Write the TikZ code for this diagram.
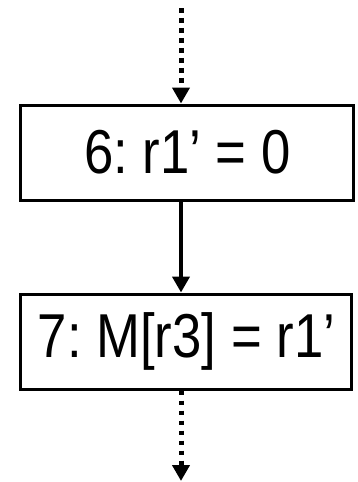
\documentclass[tikz,border=0pt]{standalone}
\usepackage{fontspec}
\newfontfamily\labfont[FakeStretch=0.85]{Liberation Sans}
\usetikzlibrary{arrows.meta,calc}
\frenchspacing
\tikzset{
  stmt/.style={draw=black, line width=3pt, minimum width=333pt, minimum height=95pt, inner sep=0pt,
    font=\labfont\fontsize{62}{70}\selectfont},
  flow/.style={line width=4pt, -{Triangle[width=17pt,length=16pt]}},
  dotflow/.style={line width=5pt, dash pattern=on 4.5pt off 5.5pt, -{Triangle[width=17pt,length=16pt]}}
}
\begin{document}
\begin{tikzpicture}[x=1pt,y=1pt]
\useasboundingbox (0,0) rectangle (358,-482);
\node[stmt] (s6) at (187.4,-152.5) {6: r1’ = 0};
\node[stmt, minimum width=331pt] (s7) at (186.4,-341.5) {7: M[r3] = r1’};
\coordinate (in) at (181,-8);
\coordinate (out) at (181,-481);
\draw[dotflow] (in) -- (in |- s6.north);
\draw[flow] (in |- s6.south) -- (in |- s7.north);
\draw[dotflow] (in |- s7.south) -- (out);
\end{tikzpicture}
\end{document}
